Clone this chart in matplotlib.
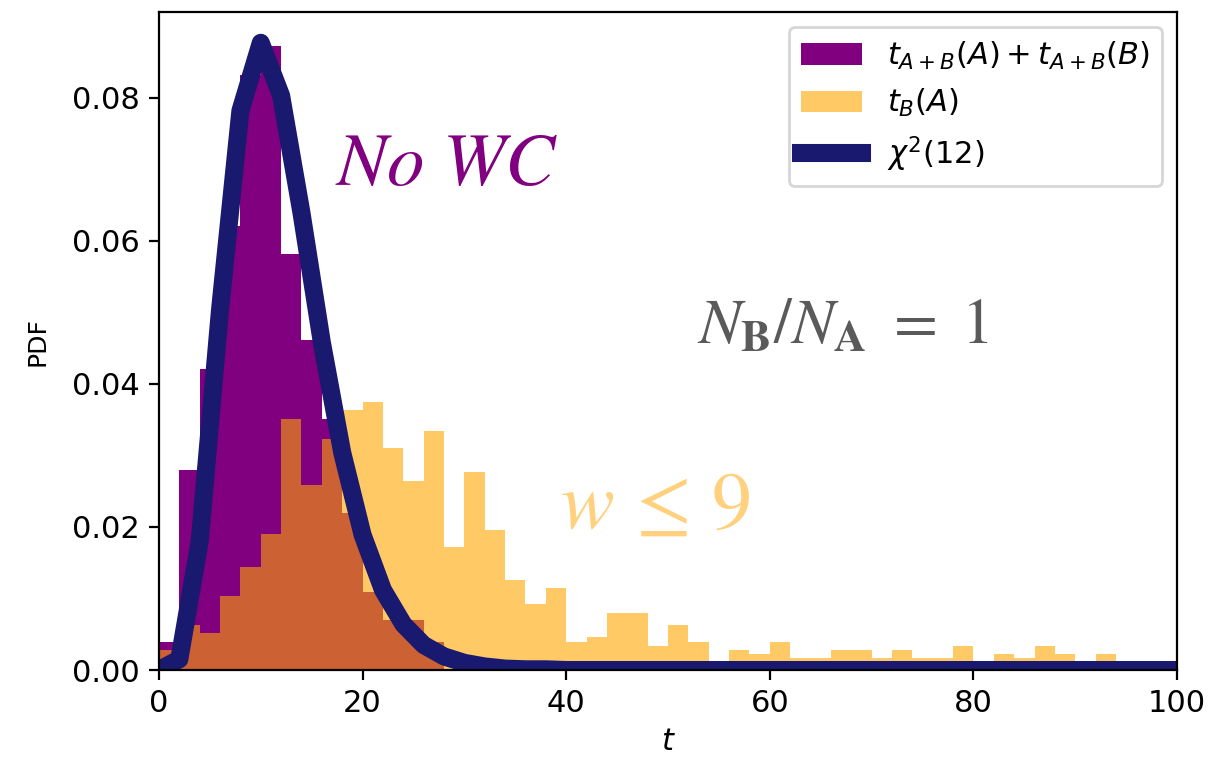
import matplotlib
matplotlib.use("Agg")
import matplotlib.pyplot as plt
import numpy as np

# histogram bins: width 2 from 0 to 100
bin_edges = list(range(0, 102, 2))

# t_{A+B}(A) + t_{A+B}(B), density per bin
pdf_ab = [0.0039, 0.0280, 0.0421, 0.0621, 0.0832, 0.0873, 0.0582, 0.0462, 0.0351, 0.0220,
          0.0109, 0.0070, 0.0070, 0.0039, 0.0, 0.0, 0.0, 0.0, 0.0, 0.0,
          0.0, 0.0, 0.0, 0.0, 0.0, 0.0, 0.0, 0.0, 0.0, 0.0,
          0.0, 0.0, 0.0, 0.0, 0.0, 0.0, 0.0, 0.0, 0.0, 0.0,
          0.0, 0.0, 0.0, 0.0, 0.0, 0.0, 0.0, 0.0, 0.0, 0.0]

# t_B(A), density per bin
pdf_b = [0.0028, 0.0063, 0.0052, 0.0103, 0.0144, 0.0190, 0.0351, 0.0259, 0.0323, 0.0364,
         0.0375, 0.0310, 0.0264, 0.0334, 0.0172, 0.0277, 0.0196, 0.0126, 0.0092, 0.0115,
         0.0039, 0.0046, 0.0080, 0.0080, 0.0034, 0.0063, 0.0039, 0.0011, 0.0028, 0.0023,
         0.0039, 0.0017, 0.0017, 0.0028, 0.0028, 0.0017, 0.0028, 0.0017, 0.0017, 0.0034,
         0.0006, 0.0023, 0.0017, 0.0034, 0.0023, 0.0006, 0.0023, 0.0011, 0.0011, 0.0011]

curve_t = list(range(0, 102, 2))
curve_pdf = [0.0, 0.0015, 0.0180, 0.0504, 0.0782, 0.0877, 0.0803, 0.0639, 0.0458, 0.0304,
             0.0189, 0.0112, 0.0064, 0.0035, 0.0019, 0.0010, 0.0005, 0.0002, 0.0001, 0.0001,
             0.0, 0.0, 0.0, 0.0, 0.0, 0.0, 0.0, 0.0, 0.0, 0.0,
             0.0, 0.0, 0.0, 0.0, 0.0, 0.0, 0.0, 0.0, 0.0, 0.0,
             0.0, 0.0, 0.0, 0.0, 0.0, 0.0, 0.0, 0.0, 0.0, 0.0, 0.0]

centers = [(a + b) / 2 for a, b in zip(bin_edges[:-1], bin_edges[1:])]

fig = plt.figure(figsize=(6.1, 3.785), dpi=200)
ax = fig.add_axes([0.1303, 0.1149, 0.8345, 0.8692])

ax.hist(centers, bins=bin_edges, weights=pdf_ab, color="purple",
        label=r"$t_{A+B}(A)+t_{A+B}(B)$")
ax.hist(centers, bins=bin_edges, weights=pdf_b, color="orange", alpha=0.6,
        label=r"$t_{B}(A)$")
ax.plot(curve_t, curve_pdf, color="midnightblue", lw=6.5, label=r"$\chi^2(12)$")

ax.text(17.3, 0.0678, r"$No\ WC$", color="purple", fontsize=27,
        math_fontfamily="stix", ha="left", va="baseline")
ax.text(52.8, 0.0457, r"$N_{\mathbf{B}}/N_{\mathbf{A}}\ =\ 1$", color="#5a5a5a", fontsize=23,
        math_fontfamily="stix", ha="left", va="baseline")
ax.text(39.4, 0.0199, r"$w\,\leq\,9$", color="orange", alpha=0.5, fontsize=29,
        math_fontfamily="stix", ha="left", va="baseline")

ax.set_xlim(0, 100)
ax.set_ylim(0, 0.092)
ax.set_yticks([0.0, 0.02, 0.04, 0.06, 0.08])
ax.tick_params(labelsize=11)
ax.set_xlabel(r"$t$", fontsize=11, labelpad=3)
ax.set_ylabel("PDF", fontsize=9, labelpad=8)
ax.legend(loc="upper right", fontsize=11)

fig.savefig("out.png", dpi=200)
